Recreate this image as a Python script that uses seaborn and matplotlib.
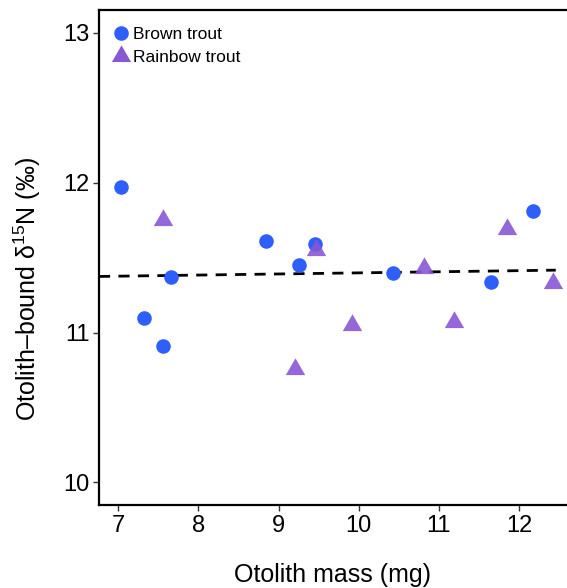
import matplotlib
matplotlib.use("Agg")
import matplotlib.pyplot as plt
import seaborn as sns
import pandas as pd
from matplotlib.lines import Line2D

# ---- data ----
brown_mass = [7.03, 7.32, 7.56, 7.66, 8.85, 9.26, 9.45, 10.43, 11.65, 12.18]
brown_d15n = [11.97, 11.10, 10.91, 11.37, 11.61, 11.45, 11.59, 11.40, 11.34, 11.81]
rainbow_mass = [7.56, 9.47, 9.20, 9.92, 10.81, 11.19, 11.85, 12.42]
rainbow_d15n = [11.75, 11.55, 10.76, 11.05, 11.43, 11.07, 11.69, 11.33]
fit_x = [6.76, 12.46]
fit_y = [11.375, 11.417]
species = ["Brown trout", "Rainbow trout"]
x_ticks = [7, 8, 9, 10, 11, 12]
y_ticks = [10, 11, 12, 13]

brown = pd.DataFrame({"mass": brown_mass, "d15n": brown_d15n})
rainbow = pd.DataFrame({"mass": rainbow_mass, "d15n": rainbow_d15n})
fit = pd.DataFrame({"mass": fit_x, "d15n": fit_y})

sns.set_theme(style="white")
plt.rcParams["font.family"] = ["Liberation Sans", "DejaVu Sans"]
plt.rcParams["mathtext.fontset"] = "custom"
plt.rcParams["mathtext.rm"] = "Liberation Sans"
plt.rcParams["mathtext.it"] = "Liberation Sans:italic"
plt.rcParams["text.color"] = "black"
plt.rcParams["axes.labelcolor"] = "black"
plt.rcParams["xtick.color"] = "black"
plt.rcParams["ytick.color"] = "black"

blue = "#2F5FFA"
purple = "#8857D4"
tri = [(-1, -0.5774), (1, -0.5774), (0, 1.1547)]

fig = plt.figure(figsize=(5.67, 5.88), dpi=100)
ax = fig.add_axes([0.1746, 0.1412, 0.8254, 0.8418])

sns.lineplot(data=fit, x="mass", y="d15n", ax=ax, color="black",
             linewidth=2.0, dashes=(4, 3), zorder=2)
sns.scatterplot(data=brown, x="mass", y="d15n", ax=ax, color=blue,
                marker="o", s=110, linewidth=0, zorder=3)
sns.scatterplot(data=rainbow, x="mass", y="d15n", ax=ax, color=purple,
                marker=tri, s=260, linewidth=0, alpha=0.9, zorder=4)

ax.set_xlim(6.76, 12.6)
ax.set_ylim(9.85, 13.153)
ax.set_xticks(x_ticks)
ax.set_yticks(y_ticks)
ax.tick_params(axis="both", which="both", direction="out", length=4,
               width=1, color="#333333", labelsize=17, pad=3,
               labelcolor="black", bottom=True, left=True)
for side in ["left", "top", "bottom"]:
    ax.spines[side].set_visible(True)
    ax.spines[side].set_linewidth(1.6)
    ax.spines[side].set_color("black")
ax.spines["right"].set_visible(False)

ax.set_xlabel("Otolith mass (mg)", fontsize=18, labelpad=19)
ax.set_ylabel("Otolith\u2013bound \u03b4$^{15}$N (\u2030)", fontsize=18)
ax.yaxis.set_label_coords(-0.12, 0.436)

handles = [
    Line2D([], [], marker="o", color=blue, linestyle="none", markersize=10.5,
           markeredgewidth=0),
    Line2D([], [], marker=tri, color=purple, linestyle="none", markersize=16,
           markeredgewidth=0),
]
ax.legend(handles, species, loc="upper left", frameon=False, fontsize=12.5,
          handletextpad=0.0, borderaxespad=0.3, labelspacing=0.45,
          handlelength=1.4, bbox_to_anchor=(-0.005, 0.99))

fig.savefig("out.png", dpi=100)
